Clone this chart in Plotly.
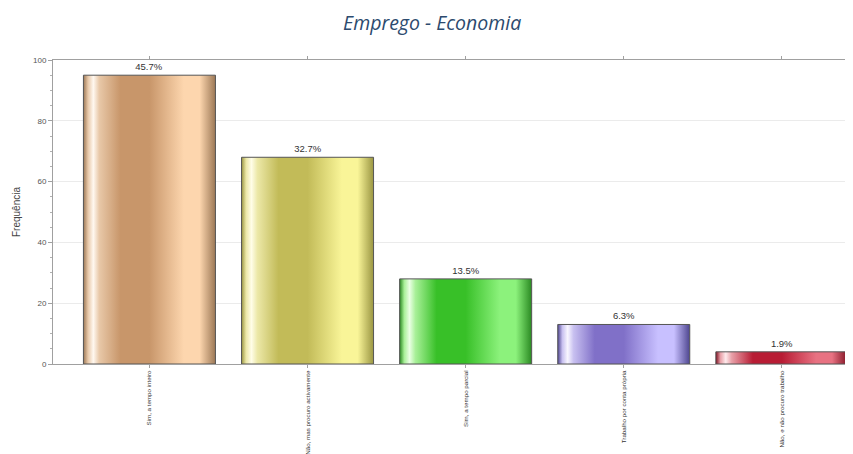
import plotly.graph_objects as go

categories = ["Sim, a tempo inteiro", "Não, mas procuro activamente", "Sim, a tempo parcial",
              "Trabalho por conta própria", "Não, e não procuro trabalho"]
frequencies = [95, 68, 28, 13, 4]
percent_labels = ["45.7%", "32.7%", "13.5%", "6.3%", "1.9%"]
y_ticks = [0, 20, 40, 60, 80, 100]

# gradient stops per bar: (edge, highlight, white, dark, light)
palettes = [
    ("#9c7856", "#e8c8a8", "#fff8f0", "#c8966a", "#fdd6ae"),
    ("#9a9642", "#ece8a8", "#fffde8", "#c2bb58", "#f9f598"),
    ("#2a8a22", "#a8f098", "#eaffe4", "#38c028", "#8cf27c"),
    ("#4e4690", "#c8c0f0", "#f8f6ff", "#8070c8", "#c8c0ff"),
    ("#7e1020", "#e8a0a8", "#ffeaec", "#b81c34", "#e87282"),
]
width = 0.835

fig = go.Figure()
idx = list(range(len(categories)))

fig.add_trace(go.Bar(
    x=idx, y=frequencies, width=width,
    marker=dict(color="rgba(0,0,0,0)", line=dict(width=0)),
    text=percent_labels, textposition="outside", cliponaxis=False,
    textfont=dict(family="Liberation Sans, Arial", size=9.5, color="#333333"),
    showlegend=False, hoverinfo="skip",
))

for i, (v, pal) in enumerate(zip(frequencies, palettes)):
    edge, hl, white, dark, light = pal
    x0, x1 = i - width / 2, i + width / 2
    fig.add_trace(go.Scatter(
        x=[x0, x0, x1, x1, x0], y=[0, v, v, 0, 0],
        mode="lines", fill="toself",
        line=dict(color="#555555", width=1),
        fillgradient=dict(type="horizontal", colorscale=[
            [0.0, edge], [0.035, hl], [0.075, white], [0.12, hl],
            [0.28, dark], [0.5, dark], [0.76, light],
            [0.88, light], [1.0, edge]]),
        showlegend=False, hoverinfo="skip",
    ))

fig.update_layout(
    width=845, height=446,
    margin=dict(l=45, r=0, t=52, b=90, autoexpand=False),
    paper_bgcolor="white", plot_bgcolor="white",
    title=dict(text="<i>Emprego - Economia</i>", x=0.502, xanchor="center",
               yref="container", y=0.967, yanchor="middle",
               automargin=False,
               font=dict(family="Open Sans", size=19.5, color="#2c4a6e")),
    font=dict(family="Liberation Sans, Arial", color="#555555"),
    bargap=0,
)
fig.update_xaxes(
    range=[-0.61, 4.45], tickvals=idx, ticktext=categories, tickangle=-90,
    tickfont=dict(family="Liberation Sans, Arial", size=6.2, color="#333333"),
    automargin=False,
    showline=True, linecolor="#a0a0a0", linewidth=1, mirror="ticks",
    ticks="outside", ticklen=3, tickcolor="#a0a0a0", showgrid=False, zeroline=False,
)
fig.update_yaxes(
    range=[0, 100], tickvals=y_ticks, tickfont=dict(size=8, color="#555555"),
    automargin=False,
    title=dict(text="Frequência", font=dict(size=10, color="#444444"), standoff=10),
    showline=True, linecolor="#a0a0a0", linewidth=1,
    ticks="outside", ticklen=4, tickcolor="#a0a0a0",
    minor=dict(dtick=5, ticks="outside", ticklen=2, tickcolor="#b0b0b0", showgrid=False),
    showgrid=True, gridcolor="#ebebeb", zeroline=False,
)

fig.write_html("out.html")
